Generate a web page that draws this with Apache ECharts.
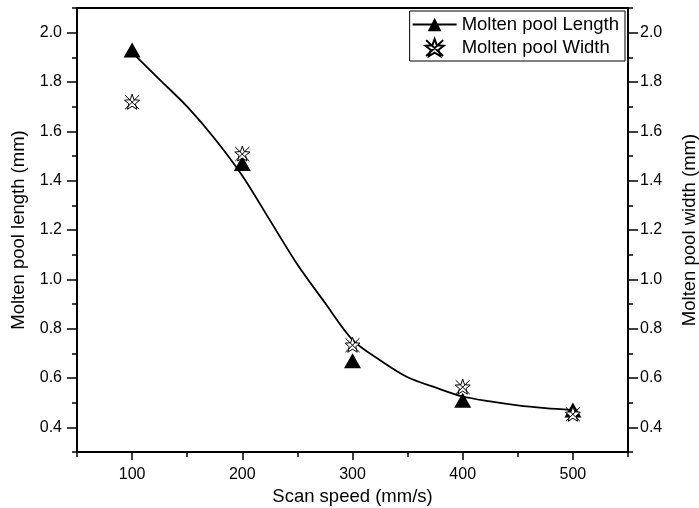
<!DOCTYPE html>
<html>
<head>
<meta charset="utf-8">
<script src="https://cdn.jsdelivr.net/npm/echarts@6/dist/echarts.min.js"></script>
<style>
  html, body { margin: 0; padding: 0; background: #fff; }
  #chart { width: 699px; height: 508px; }
</style>
</head>
<body>
<div id="chart"></div>
<script>
// measured points
const scanSpeed = [100, 200, 300, 400, 500];
const poolLength = [1.93, 1.47, 0.67, 0.51, 0.47];
const poolWidth = [1.72, 1.51, 0.735, 0.565, 0.455];

// fitted curve
const fitSpeed = [100, 125, 150, 175, 200, 225, 250, 275, 300, 325, 350, 375, 400, 425, 450, 475, 500];
const fitLength = [1.92, 1.81, 1.70, 1.57, 1.42, 1.24, 1.06, 0.905, 0.755, 0.672, 0.603, 0.562, 0.525, 0.505, 0.489, 0.478, 0.47];

// tick labels
const xTickValues = [100, 200, 300, 400, 500];
const yTickValues = [0.4, 0.6, 0.8, 1.0, 1.2, 1.4, 1.6, 1.8, 2.0];

const font = "'Liberation Sans', Arial, sans-serif";
const black = "#000";
const starSymbol =
  "path://M10 2 L12 7.5 L18 8 L13.5 11.5 L15 17 L10 14 L5 17 L6.5 11.5 L2 8 L8 7.5 Z M2.5 3 L17.5 17 M17.5 3 L2.5 17";

const labelStyle = { color: black, fontSize: 16, fontFamily: font };
const nameStyle = { color: black, fontSize: 18.5, fontFamily: font };
const lineStyle = { color: black, width: 2 };
const tickStyle = { color: black, width: 1.5 };

function majorY(position, withName, margin, gap) {
  return {
    type: "value",
    position: position,
    min: 0.3,
    max: 2.1,
    name: withName,
    nameLocation: "middle",
    nameGap: gap,
    nameTextStyle: nameStyle,
    axisLine: { show: true, onZero: false, lineStyle: lineStyle },
    axisTick: { show: true, customValues: yTickValues, length: 10, lineStyle: tickStyle },
    axisLabel: {
      customValues: yTickValues,
      margin: margin,
      formatter: (v) => v.toFixed(1),
      ...labelStyle,
    },
    splitLine: { show: false },
  };
}

function minorY(position) {
  return {
    type: "value",
    position: position,
    min: 0.3,
    max: 2.1,
    interval: 0.1,
    axisLine: { show: false, onZero: false },
    axisTick: { show: true, length: 5, lineStyle: tickStyle },
    axisLabel: { show: false },
    splitLine: { show: false },
  };
}

const option = {
  backgroundColor: "#fff",
  animation: false,
  grid: { left: 77, right: 71, top: 8, bottom: 56, containLabel: false, outerBoundsMode: "none" },
  legend: {
    data: ["Molten pool Length", "Molten pool Width"],
    orient: "vertical",
    right: 74,
    top: 11,
    itemWidth: 44,
    itemHeight: 17,
    itemGap: 2,
    padding: [3, 6, 3, 2],
    borderColor: black,
    borderWidth: 1,
    textStyle: { color: black, fontSize: 18.5, fontFamily: font, lineHeight: 21 },
  },
  xAxis: [
    {
      type: "value",
      position: "bottom",
      min: 50,
      max: 550,
      name: "Scan speed (mm/s)",
      nameLocation: "middle",
      nameGap: 34,
      nameTextStyle: nameStyle,
      axisLine: { show: true, onZero: false, lineStyle: lineStyle },
      axisTick: { show: true, customValues: xTickValues, length: 8, lineStyle: tickStyle },
      axisLabel: { customValues: xTickValues, margin: 15, ...labelStyle },
      splitLine: { show: false },
    },
    {
      type: "value",
      position: "bottom",
      min: 50,
      max: 550,
      interval: 50,
      axisLine: { show: false, onZero: false },
      axisTick: { show: true, length: 5, lineStyle: tickStyle },
      axisLabel: { show: false },
      splitLine: { show: false },
    },
    {
      type: "value",
      position: "top",
      min: 50,
      max: 550,
      axisLine: { show: true, onZero: false, lineStyle: lineStyle },
      axisTick: { show: false },
      axisLabel: { show: false },
      splitLine: { show: false },
    },
  ],
  yAxis: [
    majorY("left", "Molten pool length (mm)", 15, 44),
    minorY("left"),
    majorY("right", "Molten pool width (mm)", 12, 52),
    minorY("right"),
  ],
  series: [
    {
      name: "Molten pool Length",
      type: "line",
      xAxisIndex: 0,
      yAxisIndex: 0,
      data: fitSpeed.map((x, i) => [x, fitLength[i]]),
      smooth: 0.3,
      symbol: "triangle",
      symbolSize: [15, 13],
      showSymbol: false,
      lineStyle: { color: black, width: 1.8 },
      itemStyle: { color: black },
      z: 2,
    },
    {
      name: "Molten pool Length",
      type: "scatter",
      xAxisIndex: 0,
      yAxisIndex: 0,
      data: scanSpeed.map((x, i) => [x, poolLength[i]]),
      symbol: "triangle",
      symbolSize: [17, 15],
      itemStyle: { color: black, opacity: 1 },
      z: 3,
    },
    {
      name: "Molten pool Width",
      type: "scatter",
      xAxisIndex: 0,
      yAxisIndex: 2,
      data: scanSpeed.map((x, i) => [x, poolWidth[i]]),
      symbol: starSymbol,
      symbolSize: 15,
      itemStyle: { color: "#fff", borderColor: black, borderWidth: 1, opacity: 1 },
      z: 4,
    },
  ],
};

const myChart = echarts.init(document.getElementById("chart"));
myChart.setOption(option);
</script>
</body>
</html>
